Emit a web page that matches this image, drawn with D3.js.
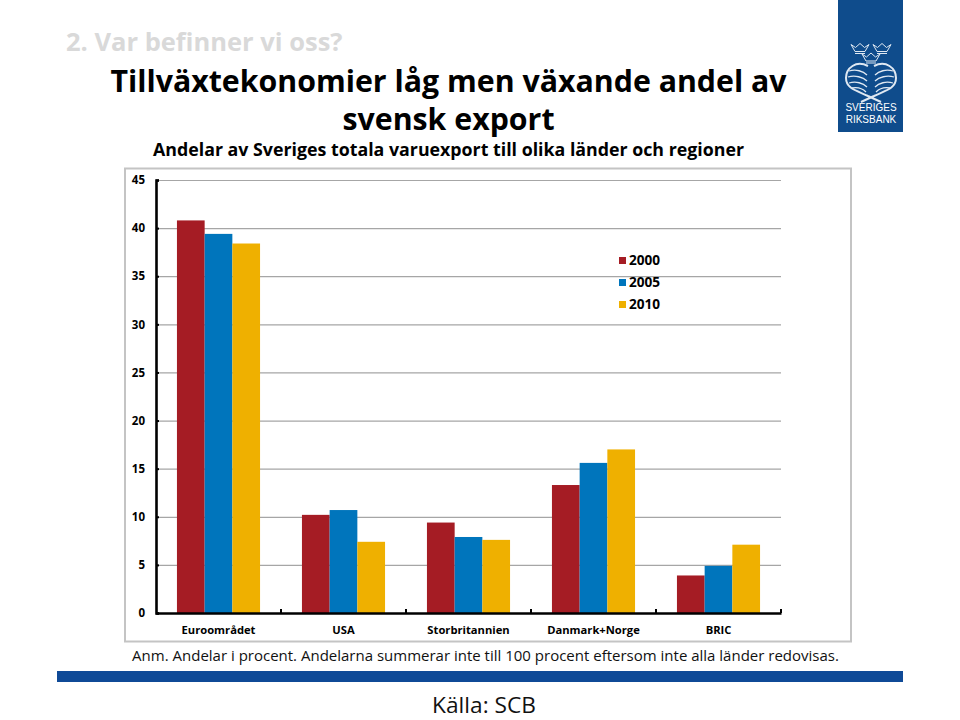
<!DOCTYPE html>
<html>
<head>
<meta charset="utf-8">
<script src="https://cdn.jsdelivr.net/npm/d3@7"></script>
<style>
  html, body { margin: 0; padding: 0; background: #fff; }
  svg { display: block; }
  text { font-family: "Open Sans", "Noto Sans", sans-serif; }
</style>
</head>
<body>
<div id="chart"></div>
<script>
// values
var categories = ["Euroområdet", "USA", "Storbritannien", "Danmark+Norge", "BRIC"]
var years = ["2000", "2005", "2010"]
var values2000 = [40.8, 10.2, 9.4, 13.3, 3.9]
var values2005 = [39.4, 10.7, 7.9, 15.6, 4.9]
var values2010 = [38.4, 7.4, 7.6, 17.0, 7.1]
var yTicks = [0, 5, 10, 15, 20, 25, 30, 35, 40, 45]
var colors = ["#a51c24", "#0075bc", "#efb000"]
var series = [values2000, values2005, values2010]

var svg = d3.select("#chart").append("svg")
  .attr("width", 960)
  .attr("height", 720)

// slide header
function addText(txt, x, y, size, weight, color, anchor){
  return svg.append("text")
    .text(txt)
    .attr("x", x)
    .attr("y", y)
    .attr("text-anchor", anchor || "middle")
    .style("font-size", size + "px")
    .style("font-weight", weight)
    .style("fill", color)
}

addText("2. Var befinner vi oss?", 66, 51, 25.5, 700, "#d9d9d9", "start")
addText("Tillväxtekonomier låg men växande andel av", 448.5, 92, 30.3, 700, "#000")
addText("svensk export", 448.5, 130, 30.3, 700, "#000")
addText("Andelar av Sveriges totala varuexport till olika länder och regioner", 448.5, 156, 17.8, 700, "#000")

// chart frame
svg.append("rect")
  .attr("x", 125)
  .attr("y", 168.5)
  .attr("width", 726)
  .attr("height", 473)
  .style("fill", "#fff")
  .style("stroke", "#c4c4c4")
  .style("stroke-width", 2)

var x = d3.scaleBand().domain(categories).range([156, 781]).paddingInner(0).paddingOuter(0)
var y = d3.scaleLinear().domain([0, 45]).range([613, 180])
var barWidth = 27.7

// gridlines
svg.append("g").selectAll("line")
  .data(yTicks.filter(function(d){ return d > 0 }))
  .join("line")
  .attr("x1", 156)
  .attr("x2", 781)
  .attr("y1", function(d){ return y(d) + 0.5 })
  .attr("y2", function(d){ return y(d) + 0.5 })
  .style("stroke", "#a6a6a6")
  .style("stroke-width", 1.2)

// bars
series.forEach(function(vals, s){
  svg.append("g").selectAll("rect")
    .data(vals)
    .join("rect")
    .attr("x", function(d, i){ return x(categories[i]) + x.bandwidth()/2 + (s - 1.5)*barWidth })
    .attr("y", function(d){ return y(d) })
    .attr("width", barWidth)
    .attr("height", function(d){ return y(0) - y(d) })
    .style("fill", colors[s])
})

// y axis
var yAxis = svg.append("g")
  .attr("transform", "translate(156,0)")
  .call(d3.axisLeft(y).tickValues(yTicks).tickSize(-3).tickPadding(11))
yAxis.select(".domain").style("stroke", "#000").style("stroke-width", 2.6)
yAxis.selectAll(".tick line").style("stroke", "#000").style("stroke-width", 2)
yAxis.selectAll("text")
  .style("font-family", "'Open Sans', sans-serif")
  .style("font-size", "11.5px")
  .style("font-weight", 700)
  .style("fill", "#000")

// x axis, ticks sit on the band edges
var xAxis = svg.append("g")
  .attr("transform", "translate(0,613)")
  .call(d3.axisBottom(x).tickSize(0).tickPadding(9))
xAxis.select(".domain").style("stroke", "#000").style("stroke-width", 2.6)
xAxis.selectAll("text")
  .attr("dy", "1.05em")
  .style("font-family", "'Open Sans', sans-serif")
  .style("font-size", "11.2px")
  .style("font-weight", 700)
  .style("fill", "#000")
svg.append("g").selectAll("line")
  .data(categories)
  .join("line")
  .attr("x1", function(d){ return x(d) + x.bandwidth() })
  .attr("x2", function(d){ return x(d) + x.bandwidth() })
  .attr("y1", 609)
  .attr("y2", 613)
  .style("stroke", "#000")
  .style("stroke-width", 2)

// legend
years.forEach(function(yr, i){
  var ly = 260 + i*22
  svg.append("rect")
    .attr("x", 619)
    .attr("y", ly - 3)
    .attr("width", 7)
    .attr("height", 7)
    .style("fill", colors[i])
  addText(yr, 629, ly + 5, 13.6, 700, "#000", "start")
})

// footer
addText("Anm. Andelar i procent. Andelarna summerar inte till 100 procent eftersom inte alla länder redovisas.", 485.5, 661, 15, 400, "#111")
svg.append("rect")
  .attr("x", 57)
  .attr("y", 671)
  .attr("width", 846)
  .attr("height", 11)
  .style("fill", "#0f4a97")
addText("Källa: SCB", 484, 713, 22.7, 400, "#111")

// logo
var logoBlue = "#0f4c8c"
svg.append("rect")
  .attr("x", 838)
  .attr("y", 0)
  .attr("width", 65)
  .attr("height", 132)
  .style("fill", logoBlue)

var logo = svg.append("g")
  .style("fill", "none")
  .style("stroke", "#dfe8f2")
  .style("stroke-width", 1)

// three crowns
var crownSpots = [[860, 48.5], [882, 48.5], [871, 58]]
crownSpots.forEach(function(c){
  logo.append("path")
    .attr("transform", `translate(${c[0]} ${c[1]})`)
    .attr("d", "M-9,-4 L-5,3 L5,3 L9,-4 L4.5,-1 L0,-5 L-4.5,-1 Z M-5,5 L5,5")
})

// crossed horns of the emblem
logo.append("path")
  .attr("d", "M868,66 C856,60 846,68 846,78 C846,89 858,91 868,96 L881,102 M874,66 C886,60 896,68 896,78 C896,89 884,91 874,96 L861,102")
  .style("stroke-width", 2)
logo.append("path")
  .attr("d", "M849,71 C856,69 863,71 867,75 M848,77 C855,75 863,77 867,81 M849,83 C856,81 863,83 867,87 M852,88 C857,87 862,88 866,92 M893,71 C886,69 879,71 875,75 M894,77 C887,75 879,77 875,81 M893,83 C886,81 879,83 875,87 M890,88 C885,87 880,88 876,92")
  .style("stroke-width", 1.3)
svg.append("text")
  .text("SVERIGES")
  .attr("x", 871)
  .attr("y", 111)
  .attr("text-anchor", "middle")
  .style("font-family", "'Liberation Sans', sans-serif")
  .style("font-size", "10px")
  .style("fill", "#fff")
svg.append("text")
  .text("RIKSBANK")
  .attr("x", 871)
  .attr("y", 123)
  .attr("text-anchor", "middle")
  .style("font-family", "'Liberation Sans', sans-serif")
  .style("font-size", "10px")
  .style("fill", "#fff")
</script>
</body>
</html>
